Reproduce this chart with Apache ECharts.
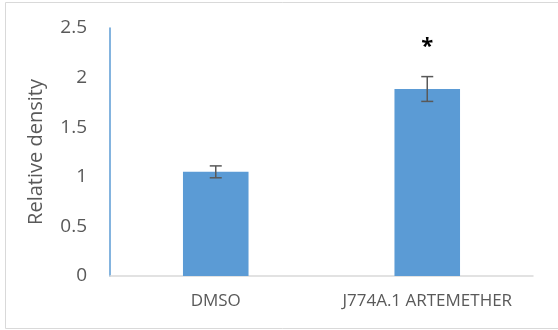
<!DOCTYPE html>
<html><head><meta charset="utf-8">
<script src="https://cdn.jsdelivr.net/npm/echarts@6/dist/echarts.min.js"></script>
<style>html,body{margin:0;padding:0;background:#fff}#c{width:558px;height:330px}</style>
</head><body><div id="c"></div>
<script>
const categories = ['DMSO', 'J774A.1 ARTEMETHER'];
const values = [1.05, 1.885];
const errors = [0.06, 0.125];
const significance = ['', '*'];
const yTicks = [0, 0.5, 1, 1.5, 2, 2.5];

const chart = echarts.init(document.getElementById('c'), null, {renderer: 'canvas'});
const font = 'Open Sans, Liberation Sans, sans-serif';
chart.setOption({
  animation: false,
  backgroundColor: '#fff',
  graphic: [{type: 'rect', shape: {x: 5.5, y: 2.5, width: 560, height: 326}, style: {fill: 'none', stroke: '#d9d9d9', lineWidth: 1}, silent: true}],
  grid: {left: 110, right: 25, top: 28, bottom: 54, containLabel: false},
  xAxis: {
    type: 'category', data: categories,
    axisLine: {lineStyle: {color: '#d9d9d9', width: 1.5}},
    axisTick: {show: false},
    axisLabel: {color: '#595959', fontSize: 17, fontFamily: font, margin: 17, interval: 0, hideOverlap: false}
  },
  yAxis: {
    type: 'value', min: 0, max: 2.5, interval: 0.5,
    name: 'Relative density', nameLocation: 'middle', nameGap: 64, nameRotate: 90,
    nameTextStyle: {color: '#595959', fontSize: 20, fontFamily: font},
    axisLine: {show: true, lineStyle: {color: '#5b9bd5', width: 1.5}},
    axisTick: {show: false},
    splitLine: {show: false},
    axisLabel: {color: '#595959', fontSize: 19, fontFamily: font, margin: 23,
      formatter: v => yTicks.includes(v) ? String(v) : ''}
  },
  series: [
    {type: 'bar', data: values, barWidth: '31%', itemStyle: {color: '#5b9bd5'}},
    {type: 'custom', z: 10,
     data: values.map((v, i) => [i, v, errors[i], significance[i]]),
     renderItem: function (params, api) {
       const x = api.coord([api.value(0), 0])[0];
       const hi = api.coord([api.value(0), api.value(1) + api.value(2)])[1];
       const lo = api.coord([api.value(0), api.value(1) - api.value(2)])[1];
       const w = 6;
       const st = {stroke: '#595959', lineWidth: 1.5};
       const children = [
         {type: 'line', shape: {x1: x, y1: hi, x2: x, y2: lo}, style: st},
         {type: 'line', shape: {x1: x - w, y1: hi, x2: x + w, y2: hi}, style: st},
         {type: 'line', shape: {x1: x - w, y1: lo, x2: x + w, y2: lo}, style: st}
       ];
       const s = significance[params.dataIndex];
       if (s) children.push({type: 'text', style: {text: s, x: x, y: hi - 30, align: 'center', verticalAlign: 'middle', fill: '#000', font: 'bold 22px ' + font}});
       return {type: 'group', children: children};
     }}
  ]
});
</script></body></html>
